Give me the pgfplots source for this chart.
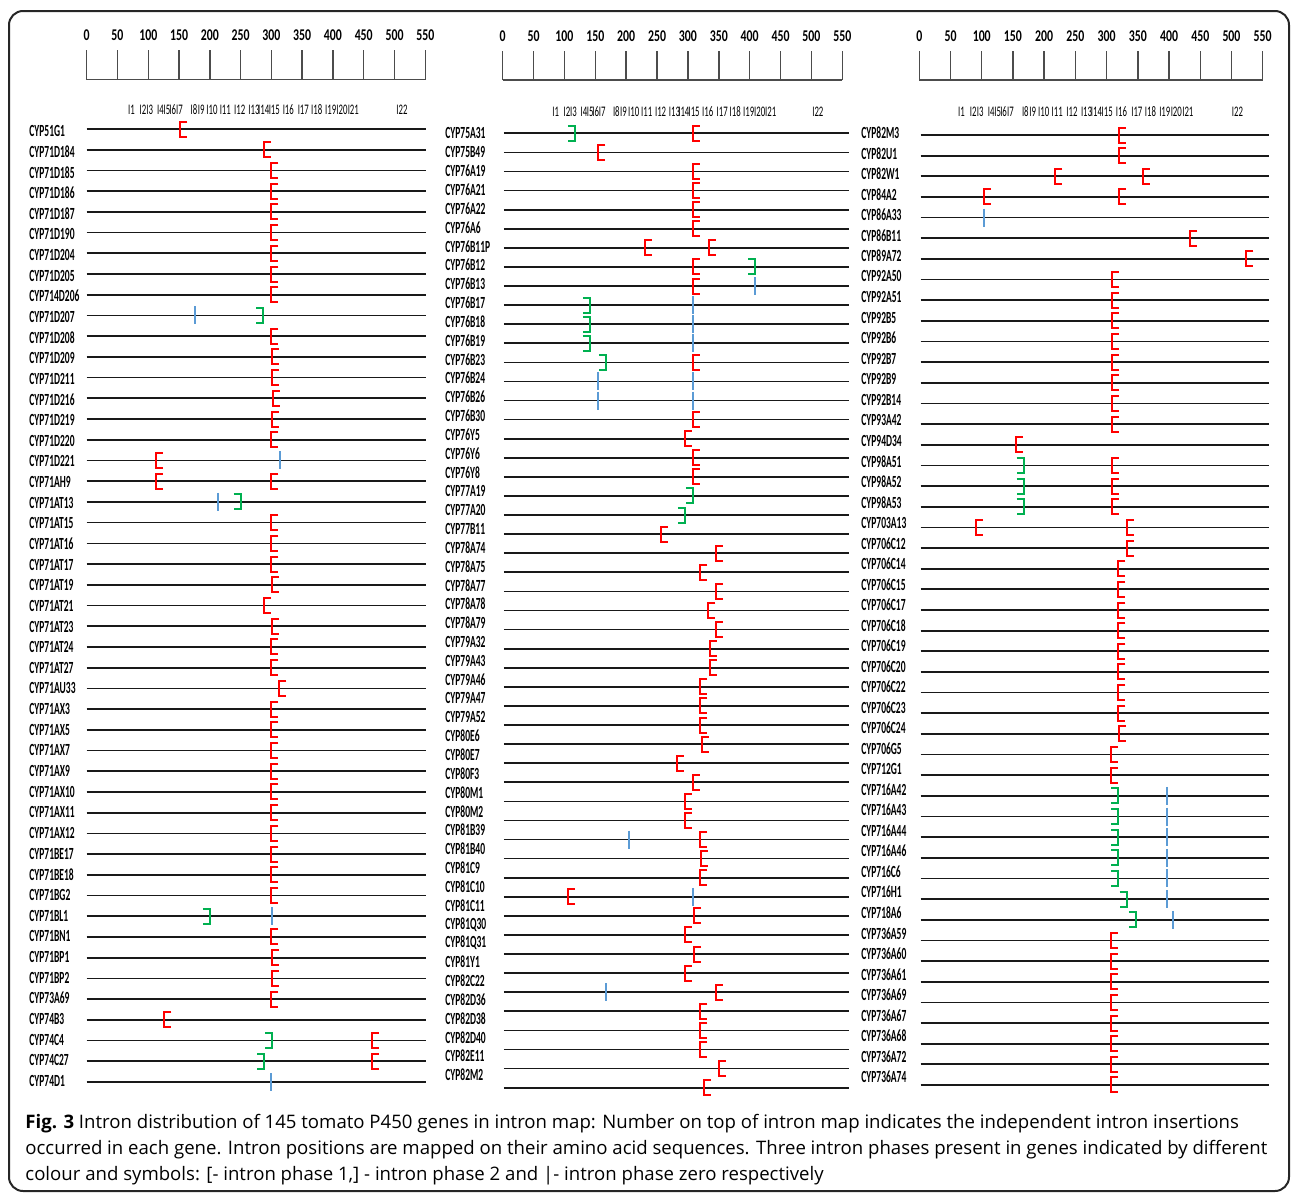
\documentclass[border=0pt]{standalone}
\usepackage{pgfplots}
\pgfplotsset{compat=1.18}
\usepackage{fontspec}
\setmainfont{Open Sans}
\newfontfamily\lab{Carlito}
\definecolor{ph1}{HTML}{FF0000}
\definecolor{ph2}{HTML}{00B050}
\definecolor{ph0}{HTML}{5B9BD5}
\newcommand\G[1]{\scalebox{0.56}[1]{#1}}
\newcommand\N[1]{\scalebox{0.72}[1]{#1}}
\newcommand\IL[1]{\scalebox{0.6}[1]{#1}}
\pgfdeclareplotmark{lbr}{%
 \pgfpathmoveto{\pgfqpoint{3.5pt}{3.75pt}}%
 \pgfpathlineto{\pgfqpoint{0pt}{3.75pt}}%
 \pgfpathlineto{\pgfqpoint{0pt}{-3.75pt}}%
 \pgfpathlineto{\pgfqpoint{3.5pt}{-3.75pt}}%
 \pgfusepathqstroke}
\pgfdeclareplotmark{rbr}{%
 \pgfpathmoveto{\pgfqpoint{-3.5pt}{3.75pt}}%
 \pgfpathlineto{\pgfqpoint{0pt}{3.75pt}}%
 \pgfpathlineto{\pgfqpoint{0pt}{-3.75pt}}%
 \pgfpathlineto{\pgfqpoint{-3.5pt}{-3.75pt}}%
 \pgfusepathqstroke}
\pgfdeclareplotmark{vbar}{%
 \pgfpathmoveto{\pgfqpoint{0pt}{4.5pt}}%
 \pgfpathlineto{\pgfqpoint{0pt}{-4.5pt}}%
 \pgfusepathqstroke}
\pgfplotsset{
 scaleaxis/.style={scale only axis, anchor=south west, xmin=0, xmax=550, ymin=0, ymax=1,
   enlargelimits=false, height=14.5pt, axis x line*=bottom, axis y line=none,
   xtick={0,50,...,550},
   xticklabels={\N{0},\N{50},\N{100},\N{150},\N{200},\N{250},\N{300},\N{350},\N{400},\N{450},\N{500},\N{550}},
   major tick length=14.5pt, tick align=inside,
   xtick style={draw=black!70, line width=0.7pt},
   x axis line style={draw=black!70, line width=0.7pt},
   xticklabel style={anchor=center, yshift=22pt, inner sep=0pt, font={\fontsize{8.2}{9}\lab\bfseries}}},
 geneaxis/.style={scale only axis, anchor=north west, xmin=0, xmax=550, y dir=reverse,
   enlargelimits=false, clip=false, axis line style={draw=none}, xtick=\empty,
   major tick length=0pt, tick style={draw=none},
   yticklabel style={anchor=west, inner sep=0pt, font={\fontsize{8.5}{10}\lab\bfseries}}},
 gline/.style={black!90, line width=0.85pt, forget plot},
 p1/.style={only marks, mark=lbr, color=ph1, mark options={line width=1pt}},
 p2/.style={only marks, mark=rbr, color=ph2, mark options={line width=1pt}},
 p0/.style={only marks, mark=vbar, color=ph0, mark options={line width=1pt}},
}
\begin{document}
\begin{tikzpicture}
\path[use as bounding box] (0,0) rectangle (646pt,-597pt);
\draw[black!85, line width=1pt, rounded corners=7pt] (4.5pt,-5.5pt) rectangle (644.5pt,-595.5pt);

% scale bars
\begin{axis}[scaleaxis, at={(43.35pt,-39.75pt)}, width=169.3pt]
\addplot[draw=none] coordinates {(0,0)(550,1)};
\end{axis}
\begin{axis}[scaleaxis, at={(251.35pt,-40pt)}, width=169.8pt]
\addplot[draw=none] coordinates {(0,0)(550,1)};
\end{axis}
\begin{axis}[scaleaxis, at={(459.65pt,-40pt)}, width=171.7pt]
\addplot[draw=none] coordinates {(0,0)(550,1)};
\end{axis}

% intron labels
\foreach \c/\t in {131.5/I1,143/I2,149.7/I3,160.5/I4,167/I5,172.7/I6,179.5/I7,194/I8,201.3/I9,212/I10,225.3/I11,239.7/I12,254/I13,263.7/I14,274.3/I15,288.3/I16,303.3/I17,316.7/I18,330.7/I19,342/I20,353.3/I21,402/I22}{
 \node[inner sep=0pt, font={\fontsize{7.3}{8}\lab}] at ({\c*0.5pt},-54.75pt) {\IL{\t}};
 \node[inner sep=0pt, font={\fontsize{7.3}{8}\lab}] at ({(552.7+(\c-128.3)*0.9687)*0.5pt},-55.75pt) {\IL{\t}};
 \node[inner sep=0pt, font={\fontsize{7.3}{8}\lab}] at ({(958.3+(\c-128.3)*1.0202)*0.5pt},-55.75pt) {\IL{\t}};
}

% panel 1
\begin{axis}[geneaxis, at={(43.35pt,-54.14pt)}, width=169.3pt, height=497.22pt, ymin=0, ymax=48,
 ytick={1.0965,2.0931,...,46.99},
 yticklabel style={xshift=-28.85pt},
 yticklabels={\G{CYP51G1},\G{CYP71D184},\G{CYP71D185},\G{CYP71D186},\G{CYP71D187},\G{CYP71D190},\G{CYP71D204},\G{CYP71D205},\G{CYP714D206},\G{CYP71D207},\G{CYP71D208},\G{CYP71D209},\G{CYP71D211},\G{CYP71D216},\G{CYP71D219},\G{CYP71D220},\G{CYP71D221},\G{CYP71AH9},\G{CYP71AT13},\G{CYP71AT15},\G{CYP71AT16},\G{CYP71AT17},\G{CYP71AT19},\G{CYP71AT21},\G{CYP71AT23},\G{CYP71AT24},\G{CYP71AT27},\G{CYP71AU33},\G{CYP71AX3},\G{CYP71AX5},\G{CYP71AX7},\G{CYP71AX9},\G{CYP71AX10},\G{CYP71AX11},\G{CYP71AX12},\G{CYP71BE17},\G{CYP71BE18},\G{CYP71BG2},\G{CYP71BL1},\G{CYP71BN1},\G{CYP71BP1},\G{CYP71BP2},\G{CYP73A69},\G{CYP74B3},\G{CYP74C4},\G{CYP74C27},\G{CYP74D1}}]
\pgfplotsinvokeforeach{1,...,47}{\addplot[gline] coordinates {(0,#1)(551,#1)};}
\addplot[p1] coordinates {(152,1)(288,2)(300,3)(300,4)(300,5)(300,6)(300,7)(300,8)(300,9)(300,11)(301,12)(301,13)(302,14)(301,15)(300,16)(112,17)(112,18)(300,18)(300,20)(300,21)(300,22)(301,23)(288,24)(301,25)(300,26)(300,27)(313,28)(300,29)(300,30)(300,31)(300,32)(300,33)(300,34)(300,35)(300,36)(300,37)(300,38)(300,40)(301,41)(301,42)(300,43)(126,44)(463,45)(463,46)};
\addplot[p2] coordinates {(287,10)(250,19)(200,39)(301,45)(288,46)};
\addplot[p0] coordinates {(176,10)(314,17)(213,19)(301,39)(299,47)};
\end{axis}

% panel 2
\begin{axis}[geneaxis, at={(251.35pt,-57.1pt)}, width=169.8pt, height=496.29pt, ymin=0, ymax=52,
 ytick={1,1.9866,...,50.36},
 yticklabel style={xshift=-28.85pt},
 yticklabels={\G{CYP75A31},\G{CYP75B49},\G{CYP76A19},\G{CYP76A21},\G{CYP76A22},\G{CYP76A6},\G{CYP76B11P},\G{CYP76B12},\G{CYP76B13},\G{CYP76B17},\G{CYP76B18},\G{CYP76B19},\G{CYP76B23},\G{CYP76B24},\G{CYP76B26},\G{CYP76B30},\G{CYP76Y5},\G{CYP76Y6},\G{CYP76Y8},\G{CYP77A19},\G{CYP77A20},\G{CYP77B11},\G{CYP78A74},\G{CYP78A75},\G{CYP78A77},\G{CYP78A78},\G{CYP78A79},\G{CYP79A32},\G{CYP79A43},\G{CYP79A46},\G{CYP79A47},\G{CYP79A52},\G{CYP80E6},\G{CYP80E7},\G{CYP80F3},\G{CYP80M1},\G{CYP80M2},\G{CYP81B39},\G{CYP81B40},\G{CYP81C9},\G{CYP81C10},\G{CYP81C11},\G{CYP81Q30},\G{CYP81Q31},\G{CYP81Y1},\G{CYP82C22},\G{CYP82D36},\G{CYP82D38},\G{CYP82D40},\G{CYP82E11},\G{CYP82M2}}]
\pgfplotsinvokeforeach{1,...,51}{\addplot[gline] coordinates {(2,#1)(561,#1)};}
\addplot[p1] coordinates {(308,1)(155,2)(308,3)(308,4)(308,5)(308,6)(230,7)(334,7)(308,8)(308,9)(308,13)(308,16)(295,17)(308,18)(308,19)(256,22)(345,23)(320,24)(345,25)(333,26)(345,27)(335,28)(335,29)(320,30)(320,31)(320,32)(322,33)(282,34)(308,35)(295,36)(295,37)(320,38)(321,39)(320,40)(105,41)(310,42)(295,43)(310,44)(295,45)(345,46)(320,47)(320,48)(320,49)(350,50)(326,51)};
\addplot[p2] coordinates {(117,1)(409,8)(141,10)(141,11)(141,12)(167,13)(308,20)(295,21)};
\addplot[p0] coordinates {(409,9)(308,10)(308,11)(308,12)(155,14)(308,14)(155,15)(308,15)(205,38)(308,41)(167,46)};
\end{axis}

% panel 3
\begin{axis}[geneaxis, at={(459.65pt,-57.17pt)}, width=171.7pt, height=495.65pt, ymin=0, ymax=48,
 ytick={0.893,1.8869,...,46.65},
 yticklabel style={xshift=-29.15pt},
 yticklabels={\G{CYP82M3},\G{CYP82U1},\G{CYP82W1},\G{CYP84A2},\G{CYP86A33},\G{CYP86B11},\G{CYP89A72},\G{CYP92A50},\G{CYP92A51},\G{CYP92B5},\G{CYP92B6},\G{CYP92B7},\G{CYP92B9},\G{CYP92B14},\G{CYP93A42},\G{CYP94D34},\G{CYP98A51},\G{CYP98A52},\G{CYP98A53},\G{CYP703A13},\G{CYP706C12},\G{CYP706C14},\G{CYP706C15},\G{CYP706C17},\G{CYP706C18},\G{CYP706C19},\G{CYP706C20},\G{CYP706C22},\G{CYP706C23},\G{CYP706C24},\G{CYP706G5},\G{CYP712G1},\G{CYP716A42},\G{CYP716A43},\G{CYP716A44},\G{CYP716A46},\G{CYP716C6},\G{CYP716H1},\G{CYP718A6},\G{CYP736A59},\G{CYP736A60},\G{CYP736A61},\G{CYP736A69},\G{CYP736A67},\G{CYP736A68},\G{CYP736A72},\G{CYP736A74}}]
\pgfplotsinvokeforeach{1,...,47}{\addplot[gline] coordinates {(2,#1)(560,#1)};}
\addplot[p1] coordinates {(320,1)(320,2)(218,3)(358,3)(104,4)(320,4)(434,6)(524,7)(308,8)(308,9)(308,10)(308,11)(308,12)(308,13)(308,14)(308,15)(155,16)(308,17)(308,18)(308,19)(91,20)(333,20)(333,21)(319,22)(319,23)(319,24)(319,25)(319,26)(319,27)(319,28)(319,29)(320,30)(307,31)(307,32)(307,40)(307,41)(307,42)(307,43)(307,44)(307,45)(307,46)(307,47)};
\addplot[p2] coordinates {(167,17)(167,18)(167,19)(319,33)(319,34)(319,35)(319,36)(319,37)(332,38)(347,39)};
\addplot[p0] coordinates {(104,5)(396,33)(396,34)(396,35)(396,36)(396,37)(396,38)(407,39)};
\end{axis}

% caption
\begin{scope}[every node/.style={anchor=base west, inner sep=0pt, font={\fontsize{9.3}{11}\selectfont}}]
\node at (12.5pt,-564pt) {\textbf{Fig. 3} Intron distribution of 145 tomato P450 genes in intron map: Number on top of intron map indicates the independent intron insertions};
\node at (12.5pt,-577pt) {occurred in each gene. Intron positions are mapped on their amino acid sequences. Three intron phases present in genes indicated by different};
\node at (12.5pt,-590pt) {colour and symbols: [- intron phase 1,] - intron phase 2 and |- intron phase zero respectively};
\end{scope}
\end{tikzpicture}
\end{document}
